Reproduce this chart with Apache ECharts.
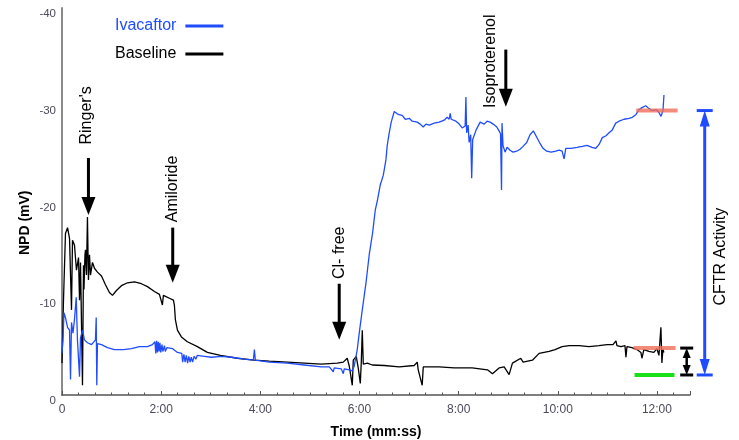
<!DOCTYPE html>
<html><head><meta charset="utf-8">
<script src="https://cdn.jsdelivr.net/npm/echarts@6/dist/echarts.min.js"></script>
<style>html,body{margin:0;padding:0;background:#fff}#c{width:739px;height:440px}</style>
</head><body><div id="c"></div>
<script>
// ---- data (time in seconds, NPD in mV) ----
const baseT = [0,1.8,4.2,6.7,9.1,11.5,12.7,15.1,17.5,20.0,21.2,22.4,24.8,26.0,26.6,27.8,28.4,29.6,30.8,32.0,33.3,34.5,36.9,39.3,42.9,47.8,52.6,57.4,61.1,65.9,71.9,79.2,87.7,96.1,103.4,111.9,117.9,121.5,122.7,130.0,134.8,136.0,137.2,139.7,144.5,151.7,163.8,175.9,191.7,212.2,232.8,250.9,272.7,293.2,313.8,333.1,340.4,345.2,347.6,351.3,352.5,356.1,358.5,361.0,362.2,363.4,364.6,369.5,375.5,390.0,408.1,426.2,429.9,431.1,435.9,437.2,456.5,474.6,496.4,514.9,520.9,529.0,535.1,541.1,545.1,555.2,558.0,569.3,577.4,589.5,596.7,605.2,613.7,625.8,637.8,649.9,659.6,666.8,670.4,671.6,676.5,681.3,682.5,683.7,689.7,695.8,700.6,701.8,704.2,710.3,716.3,719.9,722.4,724.8,726.0,727.2,728.4];
const baseV = [-3.3,-9.8,-16.7,-17.3,-16.2,-8.8,-16.0,-15.5,-12.9,-14.2,-9.8,-13.7,-1.0,-13.4,-10.9,-14.5,-15.0,-12.4,-18.4,-11.9,-14.5,-12.4,-13.7,-13.1,-12.7,-12.3,-11.4,-10.6,-10.3,-10.8,-11.3,-11.6,-11.7,-11.5,-11.2,-10.7,-10.4,-9.3,-10.3,-10.0,-9.8,-9.3,-7.8,-6.7,-6.0,-5.5,-5.0,-4.4,-4.1,-3.8,-3.6,-3.5,-3.4,-3.3,-3.2,-3.3,-3.4,-3.8,-3.0,-1.0,-3.6,-4.0,-2.8,-1.2,-3.4,-6.7,-3.2,-3.3,-3.1,-3.05,-2.9,-3.05,-3.4,-2.6,-1.0,-2.9,-2.9,-2.8,-2.8,-2.6,-2.2,-2.8,-2.9,-2.1,-3.3,-3.8,-3.4,-3.6,-4.3,-4.5,-4.7,-5.0,-5.1,-5.1,-5.0,-5.1,-5.2,-5.2,-5.6,-5.1,-5.0,-5.1,-3.9,-5.0,-4.9,-4.7,-4.4,-3.8,-4.7,-4.5,-4.4,-4.8,-4.1,-7.0,-3.3,-4.7,-4.4];

const ivaT = [0,1.2,2.4,4.2,6.7,9.1,10.3,11.5,13.3,15.1,17.2,18.7,21.2,22.4,24.8,27.2,30.8,35.7,40.5,41.4,42.1,42.9,47.8,55.0,63.5,74.4,84.0,93.7,103.4,109.4,112.5,113.5,114.5,115.5,116.5,117.5,118.5,119.5,121,122,124,125,127,133.6,139.7,145,146,147.5,149,150.5,152,153.5,155,156.5,158,160,162,163.8,172.3,180.8,192.9,205.0,220.7,231.6,232.8,234.0,250.9,272.7,293.2,313.8,323.5,328.3,329.5,338.0,340.4,341.6,347.6,351.3,353.7,357.3,359.7,363.4,367.9,371.8,375.8,379.1,381.9,385.1,388.8,392.0,393.6,396.0,398.4,402.1,404.5,406.9,411.7,415.4,420.2,423.8,429.9,433.5,437.2,440.4,444.4,450.4,456.5,462.5,466.1,468.6,469.8,471.0,476.7,480.7,484.3,487.9,488.8,489.7,491.5,492.7,494.6,495.8,497.0,501.2,506.0,510.9,514.5,518.1,521.8,526.2,528.9,530.7,531.9,532.5,533.7,536.2,538.6,542.2,545.9,550.3,554.3,557.9,562.4,566.4,570.4,573.6,578.5,582.1,586.6,591.9,597.7,601.6,605.2,607.6,609.7,616.1,623.3,629.7,635.4,641.4,646.0,650.0,653.9,658.4,662.0,666.0,670.1,674.1,680.2,686.2,690.2,694.7,698.3,701.9,706.4,710.4,714.4,718.9,722.5,724.9,727.3,728.5];
const ivaV = [-4.3,-5.7,-8.5,-8.0,-7.0,-6.7,-1.6,-7.5,-6.4,-7.8,-10.1,-5.7,-1.9,-5.9,-6.7,-5.7,-5.4,-5.2,-5.7,-8.0,-1.0,-5.3,-5.2,-4.9,-4.7,-4.7,-4.8,-5.0,-5.0,-5.2,-5.5,-4.3,-5.6,-4.4,-5.5,-4.5,-5.4,-4.4,-5.2,-4.5,-5.1,-4.5,-4.9,-4.8,-4.4,-4.3,-3.4,-4.2,-3.4,-4.1,-3.3,-4.0,-3.4,-3.9,-3.4,-4.0,-3.7,-4.1,-4.0,-3.9,-4.0,-3.9,-3.7,-3.6,-4.7,-3.6,-3.4,-3.3,-3.1,-2.9,-2.9,-2.4,-2.8,-2.7,-2.2,-2.7,-2.6,-2.5,-3.0,-4.7,-6.4,-8.8,-11.6,-14.5,-16.7,-19.1,-20.2,-21.7,-22.7,-24.3,-25.8,-27.1,-28.2,-29.3,-29.5,-29.0,-28.9,-28.5,-28.6,-28.3,-28.2,-28.0,-27.7,-28.0,-27.9,-28.1,-28.2,-28.4,-28.7,-28.5,-29.1,-28.5,-28.3,-28.0,-27.6,-27.8,-30.8,-27.1,-27.9,-26.1,-26.9,-22.4,-26.4,-27.4,-28.2,-28.0,-28.3,-28.2,-28.0,-27.7,-27.3,-27.0,-21.2,-28.1,-25.8,-25.1,-25.6,-25.3,-25.1,-25.2,-25.4,-25.7,-26.1,-26.9,-27.3,-26.8,-26.0,-25.5,-25.2,-25.1,-25.2,-25.3,-25.2,-24.4,-25.5,-25.5,-25.6,-25.7,-25.8,-25.6,-25.5,-25.9,-26.6,-26.8,-27.1,-27.4,-28.1,-28.3,-28.5,-28.6,-28.7,-29.0,-29.5,-29.7,-29.9,-29.6,-29.4,-29.5,-29.2,-28.8,-29.4,-31.0];

// reference levels (mV) and their time spans (s)
const refIvaLevel = -29.4, refIvaSpan = [695, 745];
const refBaseLevel = -4.85, refBaseSpan = [691.7, 742.6];
const refZeroLevel = -2.07, refZeroSpan = [692.9, 741.2];

// y-axis tick values and x-axis tick times
const yTicks = [-40, -30, -20, -10, 0];
const xTickStep = 120, xMax = 760;

// annotations: label, text anchor (t, v), arrow time and v range
const drugs = [
  {label: "Ringer's", tt: 30.0, tv: -28.9, at: 32.0, from: -24.5, to: -18.6},
  {label: "Amiloride", tt: 133.3, tv: -21.3, at: 134.0, from: -17.3, to: -11.6},
  {label: "Cl- free", tt: 335.5, tv: -14.7, at: 335.5, from: -11.5, to: -5.7},
  {label: "Isoproterenol", tt: 519.0, tv: -34.5, at: 537.1, from: -35.7, to: -29.8}
];
const cftr = {label: "CFTR Activity", at: 777.8, tt: 796.5, tv: -14.3};
const smallArrowT = 756.0;

const zip = (a, b) => a.map((t, i) => [t, b[i]]);
const fmt = s => s === 0 ? '0' : Math.floor(s / 60) + ':' + String(s % 60).padStart(2, '0');
const FONT = '"Liberation Sans", Arial, sans-serif';

const chart = echarts.init(document.getElementById('c'), null, {renderer: 'canvas'});
const refSeries = (name, lvl, span, color) => ({
  name, type: 'line', data: [[span[0], lvl], [span[1], lvl]], showSymbol: false, silent: true,
  lineStyle: {color, width: 4, cap: 'butt'}, z: 5
});
chart.setOption({
  animation: false,
  textStyle: {fontFamily: FONT},
  grid: {left: 62, right: 49, top: 8, bottom: 45, containLabel: false, outerBoundsMode: 'none'},
  legend: {
    orient: 'vertical', left: 110, top: 13, align: 'right', itemWidth: 38, itemHeight: 3, itemGap: 12,
    icon: 'rect', selectedMode: false,
    textStyle: {fontSize: 16, fontFamily: FONT, padding: [0, 4, 0, 0]},
    data: [{name: 'Ivacaftor', textStyle: {color: '#1f4cff'}}, {name: 'Baseline', textStyle: {color: '#000'}}]
  },
  xAxis: {
    type: 'value', min: 0, max: xMax, interval: xTickStep,
    name: 'Time (mm:ss)', nameLocation: 'middle', nameGap: 30,
    nameTextStyle: {fontWeight: 'bold', fontSize: 14, color: '#000', fontFamily: FONT},
    axisLine: {show: true, lineStyle: {color: '#555', width: 1.5}},
    axisTick: {show: true, inside: true, length: 4, lineStyle: {color: '#555'}},
    minorTick: {show: true, splitNumber: 6, length: 2.5, lineStyle: {color: '#555'}},
    splitLine: {show: false},
    axisLabel: {formatter: v => fmt(v), fontSize: 12, color: '#4a4a5a', margin: 9, fontFamily: FONT,
      showMaxLabel: false}
  },
  yAxis: {
    type: 'value', inverse: true, min: yTicks[0], max: yTicks[yTicks.length - 1], interval: 10,
    axisLine: {show: true, lineStyle: {color: '#8a8a8a', width: 2}},
    axisTick: {show: false},
    splitLine: {show: false},
    axisLabel: {fontSize: 11.5, color: '#4a4a5a', margin: 6, fontFamily: FONT, verticalAlign: 'top'}
  },
  series: [
    {name: 'Baseline', type: 'line', data: zip(baseT, baseV), showSymbol: false, sampling: 'none',
      lineStyle: {color: '#000', width: 1.3}, itemStyle: {color: '#000'}, z: 2},
    {name: 'Ivacaftor', type: 'line', data: zip(ivaT, ivaV), showSymbol: false, sampling: 'none',
      lineStyle: {color: '#1f4cff', width: 1.3}, itemStyle: {color: '#1f4cff'}, z: 3},
    refSeries('refIva', refIvaLevel, refIvaSpan, 'rgba(240,110,90,0.8)'),
    refSeries('refBase', refBaseLevel, refBaseSpan, 'rgba(240,110,90,0.8)'),
    refSeries('refZero', refZeroLevel, refZeroSpan, '#18e018')
  ]
});

// annotations placed through the chart's own scales
const P = (t, v) => chart.convertToPixel({seriesIndex: 0}, [t, v]);
const g = [];
const text = (x, y, s, color) => ({type: 'text', x, y, rotation: Math.PI / 2, z: 10,
  style: {text: s, fontSize: 16, fontFamily: FONT, fill: color, align: 'center', verticalAlign: 'middle'}});
drugs.forEach(d => {
  const [x, y1] = P(d.at, d.from), [, y2] = P(d.at, d.to);
  g.push({type: 'line', z: 10, shape: {x1: x, y1, x2: x, y2: y2 - 14}, style: {stroke: '#000', lineWidth: 3}});
  g.push({type: 'polygon', z: 10, shape: {points: [[x - 7, y2 - 18], [x + 7, y2 - 18], [x, y2]]}, style: {fill: '#000'}});
  const [tx, ty] = P(d.tt, d.tv);
  g.push(text(tx, ty, d.label, '#000'));
});
function dblArrow(t, vTop, vBot, color, capW, headW, headH, lw) {
  const [x, yT] = P(t, vTop), [, yB] = P(t, vBot);
  g.push({type: 'line', z: 10, shape: {x1: x, y1: yT + headH - 2, x2: x, y2: yB - headH + 2}, style: {stroke: color, lineWidth: lw}});
  g.push({type: 'polygon', z: 10, shape: {points: [[x - headW / 2, yT + headH], [x + headW / 2, yT + headH], [x, yT]]}, style: {fill: color}});
  g.push({type: 'polygon', z: 10, shape: {points: [[x - headW / 2, yB - headH], [x + headW / 2, yB - headH], [x, yB]]}, style: {fill: color}});
  g.push({type: 'line', z: 10, shape: {x1: x - capW / 2, y1: yT, x2: x + capW / 2, y2: yT}, style: {stroke: color, lineWidth: 3}});
  g.push({type: 'line', z: 10, shape: {x1: x - capW / 2, y1: yB, x2: x + capW / 2, y2: yB}, style: {stroke: color, lineWidth: 3}});
}
dblArrow(cftr.at, refIvaLevel, refZeroLevel, '#1f4cff', 16, 10, 16, 3);
dblArrow(smallArrowT, refBaseLevel, refZeroLevel, '#000', 13, 8, 10, 2.5);
const [cx, cy] = P(cftr.tt, cftr.tv);
g.push(text(cx, cy, cftr.label, '#000'));
const [nx, ny] = P(0, -17.8);
g.push({type: 'text', x: nx - 37, y: ny, rotation: Math.PI / 2, z: 10,
  style: {text: 'NPD (mV)', fontSize: 14, fontWeight: 'bold', fontFamily: FONT, fill: '#000', align: 'center', verticalAlign: 'middle'}});
chart.setOption({graphic: g});
</script></body></html>
